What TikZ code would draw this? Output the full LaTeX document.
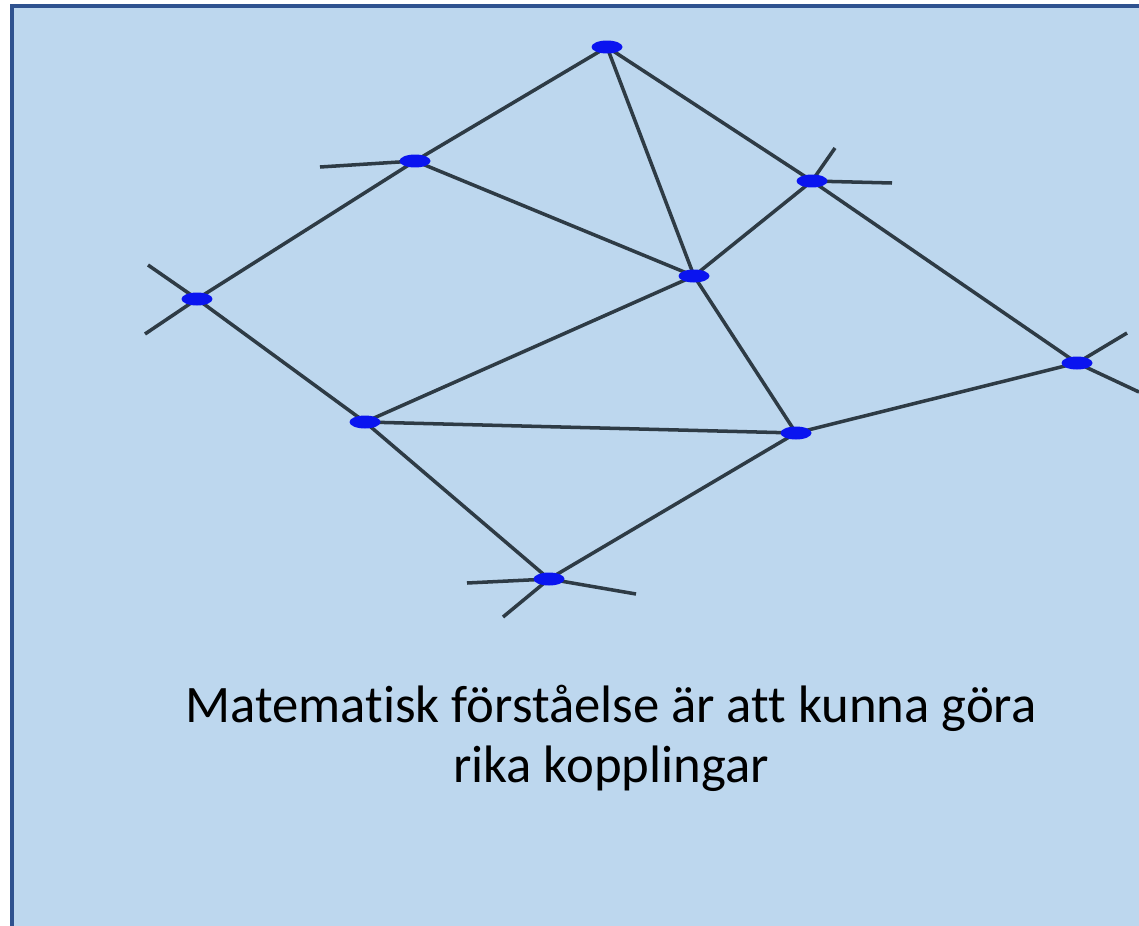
\documentclass[tikz,border=0pt]{standalone}
\usepackage{fontspec}
\setmainfont[Ligatures=NoCommon]{Carlito}
\usepackage{tikz}
\usetikzlibrary{shapes.geometric, positioning, backgrounds}
\definecolor{panelblue}{HTML}{BDD7EE}
\definecolor{frameblue}{HTML}{2F528F}
\definecolor{linkgray}{HTML}{2E3B45}
\definecolor{dotblue}{HTML}{0A14F0}

\begin{document}
\begin{tikzpicture}[
    x=0.02cm, y=-0.02cm,
    dot/.style={ellipse, fill=dotblue, minimum width=0.62cm, minimum height=0.26cm, inner sep=0pt},
    link/.style={draw=linkgray, line width=2pt},
    caption/.style={align=center, font=\fontsize{30}{34}\selectfont, text=black}
]
\useasboundingbox (0,0) rectangle (1139,926);

% Free ends
\coordinate (bl) at (320,167);
\coordinate (cu) at (835,148);
\coordinate (cr) at (892,183);
\coordinate (du) at (148,265);
\coordinate (dd) at (145,334);
\coordinate (fu) at (1127,333);
\coordinate (fd) at (1139,392);
\coordinate (il) at (467,583);
\coordinate (ir) at (636,594);
\coordinate (id) at (503,617);

% Nodes
\node[dot] (top) at (607,47) {};
\node[dot] (upleft) at (415,161) {};
\node[dot] (upright) at (812,181) {};
\node[dot] (left) at (197,299) {};
\node[dot] (mid) at (694,276) {};
\node[dot] (right) at (1077,363) {};
\node[dot] (lowleft) at (365,422) {};
\node[dot] (lowright) at (796,433) {};
\node[dot] (bottom) at (549,579) {};

% Caption
\node[caption] (label) at (611,738) {Matematisk förståelse är att kunna göra\\rika kopplingar};

% Panel and links
\begin{scope}[on background layer]
\fill[panelblue] (12,6) rectangle (1139,926);
\draw[frameblue, line width=2.4pt] (12,926) -- (12,6) -- (1139,6);

\draw[link] (top.center) -- (upleft.center);
\draw[link] (top.center) -- (mid.center);
\draw[link] (top.center) -- (upright.center);
\draw[link] (upleft.center) -- (left.center);
\draw[link] (upleft.center) -- (mid.center);
\draw[link] (upright.center) -- (mid.center);
\draw[link] (upright.center) -- (right.center);
\draw[link] (left.center) -- (lowleft.center);
\draw[link] (lowleft.center) -- (mid.center);
\draw[link] (lowleft.center) -- (lowright.center);
\draw[link] (mid.center) -- (lowright.center);
\draw[link] (lowright.center) -- (right.center);
\draw[link] (lowleft.center) -- (bottom.center);
\draw[link] (bottom.center) -- (lowright.center);
\draw[link] (upleft.center) -- (bl);
\draw[link] (upright.center) -- (cu);
\draw[link] (upright.center) -- (cr);
\draw[link] (left.center) -- (du);
\draw[link] (left.center) -- (dd);
\draw[link] (right.center) -- (fu);
\draw[link] (right.center) -- (fd);
\draw[link] (bottom.center) -- (il);
\draw[link] (bottom.center) -- (ir);
\draw[link] (bottom.center) -- (id);
\end{scope}

\end{tikzpicture}
\end{document}
